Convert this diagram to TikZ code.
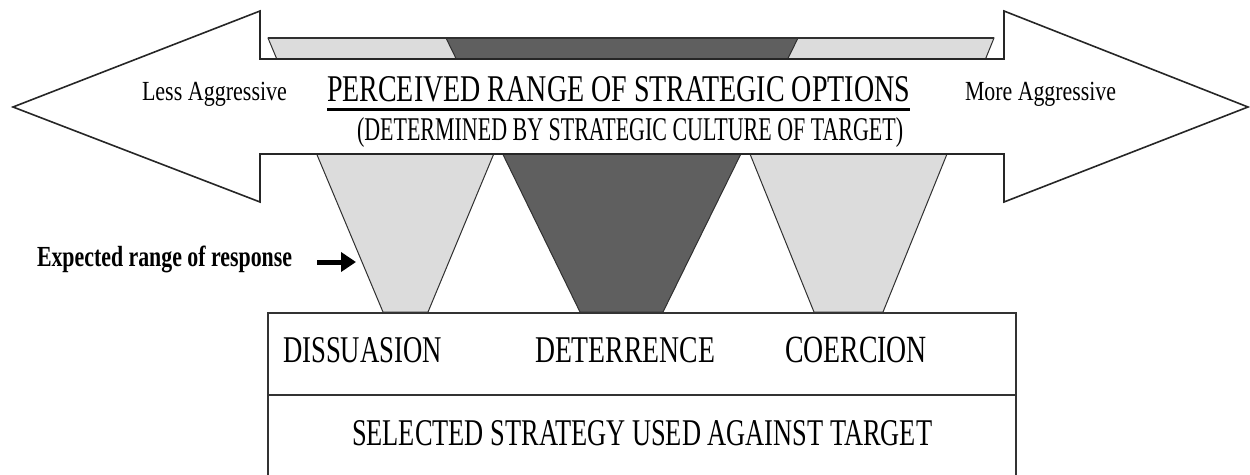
\documentclass[tikz,border=0pt]{standalone}
\usepackage{fontspec}
\setmainfont{Liberation Serif}
\usepackage{graphicx}
\usetikzlibrary{arrows.meta}
\newcommand{\fitt}[3]{\resizebox{#1pt}{#2pt}{#3}}
\definecolor{lightfill}{HTML}{DCDCDC}
\definecolor{darkfill}{HTML}{5F5F5F}
\definecolor{edge}{HTML}{303030}
\begin{document}
\begin{tikzpicture}[x=1pt,y=-1pt,
  lbl/.style={anchor=base west, inner sep=0pt, outer sep=0pt},
  funnel/.style={draw=edge, line width=1pt, line join=miter},
  bigarrow/.style={draw=black!85, fill=white, line width=1.6pt, line join=miter},
  frame/.style={draw=black!80, line width=1.6pt},
  pointer/.style={line width=5pt, -{Triangle[length=15pt,width=19pt]}}]
\useasboundingbox (0,0) rectangle (1250,474);
% funnels (cones of expected response)
\path[funnel, fill=lightfill] (268,38) -- (542,38) -- (428,312) -- (383,312) -- cycle;
\path[funnel, fill=lightfill] (703,38) -- (994,38) -- (883,312) -- (814,312) -- cycle;
\path[funnel, fill=darkfill] (446,38) -- (798,38) -- (663,312) -- (580,312) -- cycle;
\draw[edge, line width=1.6pt] (268,38) -- (994,38);
% double-headed block arrow
\path[bigarrow] (13,107) -- (260,11) -- (260,59) -- (1004,59) -- (1004,11) -- (1248,107)
  -- (1004,202) -- (1004,154) -- (260,154) -- (260,202) -- cycle;
% box of strategies
\draw[frame] (268,477) -- (268,313) -- (1016,313) -- (1016,477);
\draw[frame] (268,395) -- (1016,395);
% texts
\node[lbl] (less) at (142,100) {\fitt{145}{18.3}{Less Aggressive}};
\node[lbl] (more) at (965,100) {\fitt{151}{18.3}{More Aggressive}};
\node[lbl] (title) at (327,101.5) {\fitt{583}{25}{PERCEIVED RANGE OF STRATEGIC OPTIONS}};
\draw[line width=3pt] ([yshift=-7pt]title.south west) -- ([yshift=-7pt]title.south east);
\node[lbl] (sub) at (357,140.5) {\fitt{546}{23}{(DETERMINED BY STRATEGIC CULTURE OF TARGET)}};
\node[lbl] (exp) at (37,266.7) {\fitt{255}{20.5}{\bfseries Expected range of response}};
\coordinate (pa) at (317,262);
\coordinate (pb) at (356,262);
\draw[pointer] (pa) -- (pb);
\node[lbl] (dis) at (283,362) {\fitt{159}{25}{DISSUASION}};
\node[lbl] (det) at (535,362) {\fitt{180}{25}{DETERRENCE}};
\node[lbl] (coe) at (785,362) {\fitt{142}{25.5}{COERCION}};
\node[lbl] (sel) at (352,445) {\fitt{580}{25}{SELECTED STRATEGY USED AGAINST TARGET}};
\end{tikzpicture}
\end{document}
